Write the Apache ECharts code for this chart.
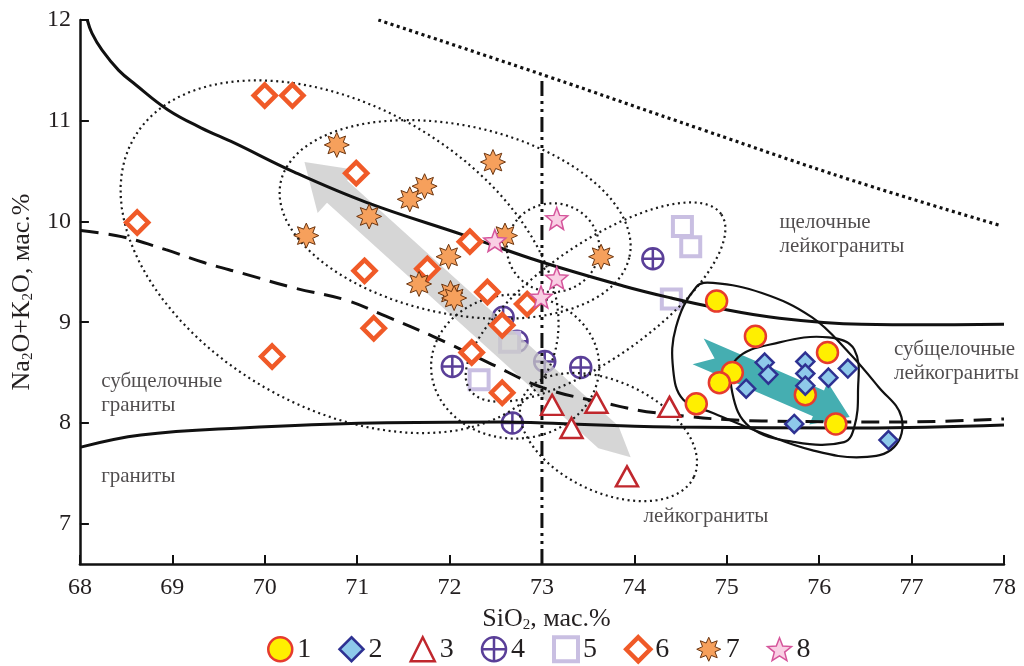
<!DOCTYPE html>
<html>
<head>
<meta charset="utf-8">
<title>SiO2 – Na2O+K2O</title>
<script src="https://cdn.jsdelivr.net/npm/echarts@6/dist/echarts.min.js"></script>
<style>
  html, body { margin: 0; padding: 0; background: #fff; }
  #chart { width: 1024px; height: 666px; }
</style>
</head>
<body>
<div id="chart"></div>
<script>
// points: [SiO2, Na2O+K2O], mass %
const group1 = [[74.89, 9.21], [75.31, 8.86], [76.09, 8.70], [75.06, 8.50], [74.92, 8.40], [74.67, 8.19], [75.85, 8.28], [76.18, 7.99]]
const group2 = [[75.41, 8.60], [75.45, 8.48], [75.21, 8.34], [75.85, 8.61], [75.85, 8.49], [75.85, 8.37], [76.10, 8.45], [76.31, 8.54], [75.73, 7.99], [76.75, 7.83]]
const group3 = [[73.11, 8.18], [73.59, 8.20], [73.32, 7.95], [73.92, 7.47], [74.38, 8.16]]
const group4 = [[72.58, 9.05], [72.73, 8.81], [73.03, 8.61], [72.03, 8.56], [73.42, 8.55], [72.68, 8.00], [74.20, 9.63]]
const group5 = [[74.52, 9.95], [74.61, 9.75], [74.40, 9.23], [72.65, 8.80], [72.32, 8.43]]
const group6 = [[70.00, 11.25], [70.30, 11.25], [68.62, 9.99], [70.99, 10.48], [71.08, 9.51], [71.18, 8.94], [70.08, 8.66],
  [72.22, 9.80], [71.76, 9.53], [72.41, 9.30], [72.84, 9.18], [72.57, 8.97], [72.24, 8.70], [72.57, 8.30]]
const group7 = [[70.78, 10.76], [72.47, 10.59], [71.73, 10.35], [71.57, 10.22], [71.13, 10.05], [70.45, 9.86],
  [71.99, 9.65], [71.67, 9.38], [72.01, 9.29], [72.05, 9.24], [72.60, 9.86], [73.64, 9.65]]
const group8 = [[73.16, 10.03], [72.49, 9.81], [73.16, 9.44], [72.99, 9.25]]

// field boundaries
const alkalineLine = [[68.08, 12.0], [68.13, 11.87], [68.24, 11.70], [68.42, 11.50], [68.60, 11.36], [68.95, 11.11], [69.31, 10.93],
  [69.67, 10.78], [70.32, 10.49], [71.10, 10.19], [72.17, 9.86], [72.99, 9.60], [73.88, 9.36], [74.40, 9.24], [74.85, 9.15],
  [75.57, 9.04], [76.46, 8.98], [77.20, 8.975], [78.0, 8.98]]
const subalkalineLine = [[68.01, 9.91], [68.45, 9.85], [68.93, 9.72], [69.35, 9.59], [69.78, 9.48], [70.32, 9.34], [70.88, 9.22],
  [71.31, 9.06], [71.82, 8.86], [72.42, 8.60], [73.01, 8.35], [73.67, 8.20], [74.24, 8.10], [75.38, 8.02], [76.89, 8.01], [78.0, 8.04]]
const graniteLine = [[68.01, 7.76], [68.66, 7.88], [69.74, 7.95], [71.17, 8.00], [72.60, 8.01], [73.01, 8.00], [74.39, 7.96], [76.46, 7.95], [78.0, 7.98]]
const upperDotted = [[71.23, 12.0], [73.03, 11.45], [74.74, 10.91], [76.35, 10.41], [77.96, 9.96]]
const leucoBorder = [[73, 6.6], [73, 11.42]]

// dotted fields: [centre SiO2, centre Na2O+K2O, semi-axis a, semi-axis b (SiO2 units), tilt deg]
const fieldEllipses = [
  [70.81, 9.65, 2.57, 1.63, -30],
  [72.06, 10.02, 1.93, 1.02, -12],
  [73.12, 9.74, 0.50, 0.48, 0],
  [73.58, 9.20, 1.66, 0.62, 35],
  [72.71, 8.56, 0.91, 0.78, 0],
  [73.72, 7.86, 1.02, 0.60, -25]
]
// solid outlines around groups 1 and 2
const outline1 = [[74.67, 9.35], [74.85, 9.39], [75.38, 9.29], [75.92, 9.05], [76.32, 8.70], [76.64, 8.36], [76.89, 8.06], [76.81, 7.76],
  [76.46, 7.66], [75.92, 7.73], [75.38, 7.90], [74.85, 8.10], [74.53, 8.23], [74.42, 8.53], [74.45, 8.95]]
const outline2 = [[75.10, 8.63], [75.57, 8.80], [76.10, 8.85], [76.38, 8.73], [76.42, 8.30], [76.38, 7.96], [76.27, 7.81],
  [75.74, 7.81], [75.25, 7.96], [75.06, 8.30]]
const fieldOutlines = [outline1, outline2]

// trend arrows: [from SiO2, from Na2O+K2O, to SiO2, to Na2O+K2O]
const trendArrows = [[73.96, 7.66, 70.43, 10.59], [74.69, 8.71, 76.33, 8.06]]

const regionNames = ['щелочные\nлейкограниты', 'субщелочные\nлейкограниты', 'субщелочные\nграниты', 'граниты', 'лейкограниты']
const regionAnchors = [[75.57, 9.87], [76.81, 8.61], [68.23, 8.29], [68.23, 7.47], [74.10, 7.07]]

const legendNames = ['1', '2', '3', '4', '5', '6', '7', '8']

const serif = 'Liberation Serif'
const ink = '#231f20'

function starPath(n, rOut, rIn) {
  let d = ''
  for (let i = 0; i < n * 2; i++) {
    const r = i % 2 ? rIn : rOut
    const a = -Math.PI / 2 + i * Math.PI / n
    d += (i ? 'L' : 'M') + (r * Math.cos(a)).toFixed(2) + ',' + (r * Math.sin(a)).toFixed(2)
  }
  return 'path://' + d + 'Z'
}
const burst = starPath(8, 10, 5.6)
const star = starPath(5, 10, 4.3)
const circleCross = 'path://M10,0A10,10,0,1,1,-10,0A10,10,0,1,1,10,0ZM0,-10L0,10M-10,0L10,0'

// marker look per group, shared by the series and the legend
const markers = {
  '1': { symbol: 'circle', size: 21, fill: '#ffef00', stroke: '#e63b2e', width: 2.5, z: 4 },
  '2': { symbol: 'diamond', size: 18, fill: '#8ec9ea', stroke: '#2e3192', width: 2.5, z: 4 },
  '3': { symbol: 'triangle', size: [22, 20], fill: '#fff', stroke: '#c0272d', width: 2.5, z: 4 },
  '4': { symbol: circleCross, size: 21, fill: '#fff', stroke: '#5a3f98', width: 2.5, z: 1 },
  '5': { symbol: 'rect', size: 19, fill: '#fff', stroke: '#c9bfe2', width: 4, z: 1 },
  '6': { symbol: 'diamond', size: 22, fill: '#fff', stroke: '#f05a28', width: 4.5, z: 4 },
  '7': { symbol: burst, size: 25, fill: '#f6a05c', stroke: '#6b3510', width: 1, z: 4 },
  '8': { symbol: star, size: 22, fill: '#f9cfe4', stroke: '#d5559b', width: 1.5, z: 4 }
}

function points(name, data) {
  const m = markers[name]
  return {
    name: name,
    type: 'scatter',
    data: data,
    symbol: m.symbol,
    symbolSize: m.size,
    z: m.z,
    itemStyle: { color: m.fill, borderColor: m.stroke, borderWidth: m.width, opacity: 1 }
  }
}

function boundary(data, type, width) {
  return {
    type: 'line',
    data: data,
    smooth: 0.4,
    symbol: 'none',
    silent: true,
    z: 3,
    lineStyle: { color: '#111', width: width, type: type }
  }
}

function renderEllipse(params, api) {
  const c = api.coord([api.value(0), api.value(1)])
  const unit = api.size([1, 0])[0]
  const a = api.value(2) * unit
  const b = api.value(3) * unit
  const th = api.value(4) * Math.PI / 180
  const pts = []
  for (let i = 0; i < 96; i++) {
    const t = i / 96 * Math.PI * 2
    pts.push([
      c[0] + a * Math.cos(t) * Math.cos(th) - b * Math.sin(t) * Math.sin(th),
      c[1] - (a * Math.cos(t) * Math.sin(th) + b * Math.sin(t) * Math.cos(th))
    ])
  }
  return {
    type: 'polygon',
    shape: { points: pts },
    style: { fill: 'none', stroke: '#1a1a1a', lineWidth: 2.2, lineDash: [2, 3.6] }
  }
}

function renderOutline(params, api) {
  const pts = fieldOutlines[params.dataIndex].map(p => api.coord(p))
  return {
    type: 'polygon',
    shape: { points: pts, smooth: 0.4 },
    style: { fill: 'none', stroke: '#111', lineWidth: 2.2 }
  }
}

function renderArrow(params, api) {
  const p0 = api.coord([api.value(0), api.value(1)])
  const p1 = api.coord([api.value(2), api.value(3)])
  const dx = p1[0] - p0[0]
  const dy = p1[1] - p0[1]
  const len = Math.hypot(dx, dy)
  const ux = dx / len, uy = dy / len
  const nx = -uy, ny = ux
  const pt = (s, t) => [p0[0] + ux * s + nx * t, p0[1] + uy * s + ny * t]
  let pts, fill
  if (params.dataIndex === 0) {
    const hw = 15, head = 44, hh = 29
    pts = [pt(0, 0), pt(30, hw), pt(len - head, hw), pt(len - head, hh), pt(len, 0),
      pt(len - head, -hh), pt(len - head, -hw), pt(30, -hw)]
    fill = 'rgba(200,200,200,0.75)'
  } else {
    const hw = 14, head = 34, hh = 23, notch = 18
    pts = [pt(0, hw), pt(len - head, hw), pt(len - head, hh), pt(len, 0),
      pt(len - head, -hh), pt(len - head, -hw), pt(0, -hw), pt(notch, 0)]
    fill = '#45aeb1'
  }
  return { type: 'polygon', shape: { points: pts }, style: { fill: fill } }
}

const chart = echarts.init(document.getElementById('chart'))

chart.setOption({
  animation: false,
  backgroundColor: '#fff',
  grid: { left: 71, right: 20, top: 20, bottom: 102 },
  legend: {
    data: legendNames.map(n => ({
      name: n,
      itemStyle: { color: markers[n].fill, borderColor: markers[n].stroke, borderWidth: markers[n].width }
    })),
    left: 262,
    top: 630,
    itemWidth: 24,
    itemHeight: 24,
    itemGap: 27,
    textStyle: { fontFamily: serif, fontSize: 28, color: ink }
  },
  xAxis: {
    type: 'value',
    min: 68,
    max: 78,
    interval: 1,
    splitLine: { show: false },
    axisLine: { lineStyle: { color: '#111', width: 2.5 } },
    axisTick: { inside: true, length: 9, lineStyle: { color: '#111', width: 2 } },
    axisLabel: { fontFamily: serif, fontSize: 24, color: ink, margin: 12 },
    name: 'SiO{sub|2}, мас.%',
    nameLocation: 'middle',
    nameGap: 36,
    nameTextStyle: {
      fontFamily: serif, fontSize: 26, color: ink, lineHeight: 28, padding: [0, 0, 0, 9],
      rich: { sub: { fontFamily: serif, fontSize: 15, lineHeight: 15, verticalAlign: 'bottom', color: ink } }
    }
  },
  yAxis: {
    type: 'value',
    min: 6.6,
    max: 12,
    splitNumber: 5,
    splitLine: { show: false },
    axisLine: { lineStyle: { color: '#111', width: 2.5 } },
    axisTick: { inside: true, length: 9, lineStyle: { color: '#111', width: 2 } },
    axisLabel: {
      fontFamily: serif, fontSize: 24, color: ink, margin: 9, showMinLabel: false,
      formatter: v => Number.isInteger(v) ? String(v) : ''
    },
    name: 'Na{sub|2}O+K{sub|2}O, мас.%',
    nameLocation: 'middle',
    nameGap: 36,
    nameTextStyle: {
      fontFamily: serif, fontSize: 26, color: ink, lineHeight: 28,
      rich: { sub: { fontFamily: serif, fontSize: 15, lineHeight: 15, verticalAlign: 'bottom', color: ink } }
    }
  },
  series: [
    points('4', group4),
    points('5', group5),
    {
      type: 'custom',
      silent: true,
      z: 2,
      data: trendArrows,
      encode: { x: [0, 2], y: [1, 3] },
      renderItem: renderArrow
    },
    {
      type: 'custom',
      silent: true,
      z: 3,
      data: fieldEllipses,
      encode: { x: 0, y: 1 },
      renderItem: renderEllipse
    },
    {
      type: 'custom',
      silent: true,
      z: 3,
      data: fieldOutlines.map(o => o[0]),
      encode: { x: 0, y: 1 },
      renderItem: renderOutline
    },
    boundary(alkalineLine, 'solid', 3),
    boundary(subalkalineLine, [18, 10], 3),
    boundary(graniteLine, 'solid', 3),
    boundary(upperDotted, [3, 3.5], 3.2),
    {
      type: 'line',
      data: leucoBorder,
      symbol: 'none',
      silent: true,
      z: 3,
      lineStyle: { color: '#111', width: 3, type: [15, 5, 3, 5, 3, 5] }
    },
    points('1', group1),
    points('2', group2),
    points('3', group3),
    points('6', group6),
    points('7', group7),
    points('8', group8),
    {
      type: 'scatter',
      silent: true,
      symbolSize: 0,
      z: 6,
      data: regionNames.map((n, i) => ({ name: n, value: regionAnchors[i] })),
      label: {
        show: true,
        position: 'right',
        distance: 0,
        formatter: '{b}',
        align: 'left',
        fontFamily: serif,
        fontSize: 21,
        lineHeight: 24,
        color: ink
      }
    }
  ]
})
</script>
</body>
</html>
